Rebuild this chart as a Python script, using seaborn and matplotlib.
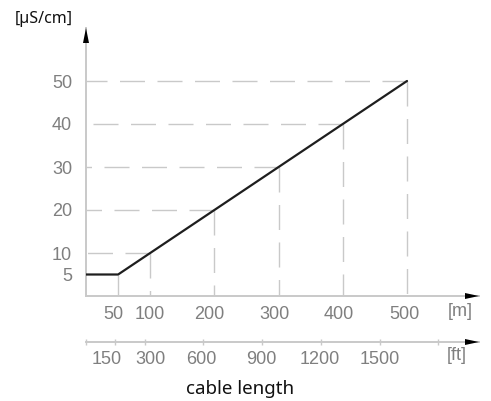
import matplotlib
matplotlib.use("Agg")
import matplotlib.pyplot as plt
from matplotlib.patches import Polygon
from matplotlib.transforms import ScaledTranslation
import seaborn as sns
import pandas as pd

# ---- data ----
length_m = [0, 50, 100, 200, 300, 400, 500]
conductivity = [5, 5, 10, 20, 30, 40, 50]
y_ticks = [5, 10, 20, 30, 40, 50]
x_ticks_m = [50, 100, 200, 300, 400, 500]
x_ticks_ft = [0, 150, 300, 600, 900, 1200, 1500, 1800]
x_ticklabels_ft = ["", "150", "300", "600", "900", "1200", "1500", ""]
grid_h_len = [100, 200, 300, 400, 500]
grid_h_val = [10, 20, 30, 40, 50]
grid_v_len = [50, 100, 200, 300, 400, 500]
grid_v_val = [5, 10, 20, 30, 40, 50]

# label nudges in pixels (layout only)
m_label_dx = [-4.5, -0.5, -5, -4, -4, -2.5]
ft_label_dx = [0, -8.5, 6, -2, -1, -1.5, 0, 0]

sns.set_style("white")
plt.rcParams['font.family'] = ['Liberation Sans', 'DejaVu Sans']

W, H = 491, 401
fig = plt.figure(figsize=(W / 100, H / 100), dpi=100)

def fx(px):
    return px / W

def fy(py):
    return 1 - py / H

x0, x1 = 86, 479      # pixel x of axis origin / arrow tip
yb, yt = 296, 28      # pixel y of axis origin / arrow tip
ax = fig.add_axes([fx(x0), fy(yb), (x1 - x0) / W, (yb - yt) / H])
m_per_px = 500 / (407 - x0)
ax.set_xlim(0, (x1 - x0) * m_per_px)
u_per_px = 50 / (yb - 81)
ax.set_ylim(0, (yb - yt) * u_per_px)

grid_col = "#c9c9c9"
dash = (18, 9)
# gridlines (drawn from the curve towards the axes)
for L, v in zip(grid_h_len, grid_h_val):
    ax.plot([L, 0], [v, v], color=grid_col, lw=1.0, dashes=dash, zorder=1)
for L, v in zip(grid_v_len, grid_v_val):
    ax.plot([L, L], [v, 0], color=grid_col, lw=1.0, dashes=dash, zorder=1)

df = pd.DataFrame({"length": length_m, "cond": conductivity})
sns.lineplot(data=df, x="length", y="cond", ax=ax, color="#1e1e1e", lw=1.6,
             zorder=3, legend=False)

for s in ["top", "right"]:
    ax.spines[s].set_visible(False)
for s in ["left", "bottom"]:
    ax.spines[s].set_color(grid_col)
    ax.spines[s].set_linewidth(1.4)

tick_col = "#7f7f7f"
fs = 13
ax.set_yticks(y_ticks)
ax.set_yticklabels([str(v) for v in y_ticks])
ax.set_xticks(x_ticks_m)
ax.set_xticklabels([str(v) for v in x_ticks_m])
ax.tick_params(axis="y", length=0, pad=10, labelsize=fs, labelcolor=tick_col)
ax.tick_params(axis="x", length=0, pad=7, labelsize=fs, labelcolor=tick_col)
ax.set_xlabel("")
ax.set_ylabel("")

# secondary ft axis
y_ft = 342
sec = ax.secondary_xaxis(-(y_ft - yb) / (yb - yt),
                         functions=(lambda m: m * 3.28084, lambda f: f / 3.28084))
sec.set_xticks(x_ticks_ft)
sec.set_xticklabels(x_ticklabels_ft)
sec.tick_params(axis="x", direction="inout", length=5, width=1.0, color=grid_col,
                pad=4, labelsize=fs, labelcolor=tick_col)
sec.spines["bottom"].set_color(grid_col)
sec.spines["bottom"].set_linewidth(1.4)

for lab, dx in zip(ax.get_xticklabels(), m_label_dx):
    lab.set_transform(lab.get_transform() + ScaledTranslation(dx / 100, 0, fig.dpi_scale_trans))
for lab, dx in zip(sec.get_xticklabels(), ft_label_dx):
    lab.set_transform(lab.get_transform() + ScaledTranslation(dx / 100, 0, fig.dpi_scale_trans))

# unit labels
fig.text(fx(460), fy(312), "[m]", ha="center", va="center", fontsize=fs, color=tick_col)
fig.text(fx(457), fy(356), "[ft]", ha="center", va="center", fontsize=fs, color=tick_col)
fig.text(fx(44), fy(19), "[µS/cm]", ha="center", va="center", fontsize=11.5,
         color="#111111", family=["Noto Sans", "DejaVu Sans"])
fig.text(fx(240), fy(389), "cable length", ha="center", va="center", fontsize=13.5,
         color="#111111", family=["Noto Sans", "DejaVu Sans"])

# arrowheads
def tri(pts):
    fig.add_artist(Polygon([(fx(a), fy(b)) for a, b in pts], closed=True,
                           transform=fig.transFigure, facecolor="black",
                           edgecolor="none", zorder=10))

tri([(x0, yt), (x0 - 3, yt + 15), (x0 + 3, yt + 15)])
tri([(x1, yb), (x1 - 14, yb - 3), (x1 - 14, yb + 3)])
tri([(x1, y_ft), (x1 - 14, y_ft - 3), (x1 - 14, y_ft + 3)])

fig.savefig("out.png", dpi=100)
